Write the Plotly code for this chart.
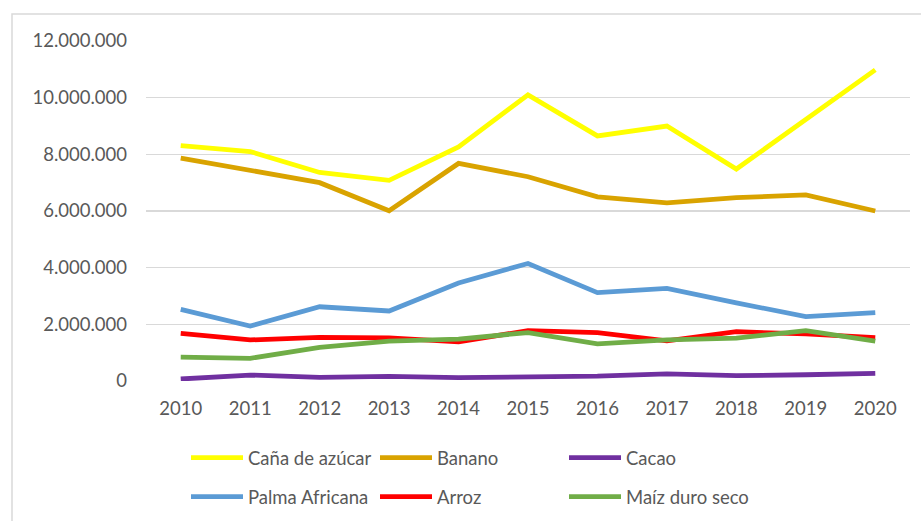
import plotly.graph_objects as go

years = ["2010", "2011", "2012", "2013", "2014", "2015", "2016", "2017", "2018", "2019", "2020"]
cana = [8310000, 8100000, 7360000, 7080000, 8260000, 10100000, 8650000, 9000000, 7480000, 9250000, 10980000]
banano = [7870000, 7420000, 7000000, 6010000, 7680000, 7210000, 6500000, 6290000, 6470000, 6570000, 6000000]
cacao = [70000, 210000, 130000, 160000, 120000, 150000, 170000, 250000, 190000, 220000, 270000]
palma = [2530000, 1940000, 2620000, 2470000, 3460000, 4150000, 3120000, 3270000, 2760000, 2270000, 2410000]
arroz = [1680000, 1450000, 1540000, 1520000, 1380000, 1780000, 1710000, 1420000, 1740000, 1660000, 1530000]
maiz = [840000, 800000, 1190000, 1410000, 1480000, 1710000, 1310000, 1450000, 1510000, 1780000, 1410000]
y_ticks = [0, 2000000, 4000000, 6000000, 8000000, 10000000, 12000000]
y_tick_labels = ["0", "2.000.000", "4.000.000", "6.000.000", "8.000.000", "10.000.000", "12.000.000"]

series_names = ["Caña de azúcar", "Banano", "Cacao", "Palma Africana", "Arroz", "Maíz duro seco"]
series_values = [cana, banano, cacao, palma, arroz, maiz]
series_colors = ["#FFFF00", "#D9A300", "#7030A0", "#5B9BD5", "#FF0000", "#70AD47"]

FONT = "Lato"
GRAY = "#595959"

# plot area in pixels: x 146..910, y 41..381
PL, PR, PT, PB = 146, 910, 41, 381
def px_x(p):
    return (p - PL) / (PR - PL)
def px_y(p):
    return (PB - p) / (PB - PT)

legend_cols = [186, 375, 564]
legend_rows = [458, 497]

fig = go.Figure()
layout_legends = {}
for i, (name, vals, color) in enumerate(zip(series_names, series_values, series_colors)):
    key = "legend" if i == 0 else f"legend{i + 1}"
    fig.add_trace(go.Scatter(
        x=years, y=vals, name=name, mode="lines",
        line=dict(color=color, width=4.8),
        legend=key,
    ))
    layout_legends[key] = dict(
        orientation="h", xanchor="left", yanchor="middle",
        x=px_x(legend_cols[i % 3]), y=px_y(legend_rows[i // 3]),
        font=dict(family=FONT, size=18.5, color=GRAY),
        itemwidth=52, bgcolor="rgba(0,0,0,0)",
        itemclick=False, itemdoubleclick=False,
    )

fig.update_layout(
    width=921, height=521,
    margin=dict(l=PL, r=921 - PR, t=PT, b=521 - PB, autoexpand=False),
    paper_bgcolor="white", plot_bgcolor="white",
    font=dict(family=FONT, size=18, color=GRAY),
    showlegend=True,
    hovermode=False,
    xaxis=dict(
        type="category", range=[-0.5, 10.5],
        showgrid=False, zeroline=False, showline=False,
        ticks="", ticklabelstandoff=14,
        tickfont=dict(family=FONT, size=18.5, color=GRAY),
    ),
    yaxis=dict(
        range=[0, 12000000],
        tickvals=y_ticks, ticktext=y_tick_labels,
        showgrid=True, gridcolor="#D9D9D9", gridwidth=1.3,
        zeroline=False, showline=False, ticks="",
        ticklabelstandoff=18,
        tickfont=dict(family=FONT, size=18.5, color=GRAY),
    ),
    shapes=[dict(
        type="rect", xref="paper", yref="paper",
        x0=px_x(12), x1=px_x(960), y0=px_y(560), y1=px_y(14),
        line=dict(color="#D9D9D9", width=1.5), fillcolor="rgba(0,0,0,0)",
        layer="below",
    )],
    **layout_legends,
)

fig.write_html(
    "out.html",
    config={"displayModeBar": False, "staticPlot": True},
    post_script="document.body.style.margin='0';document.body.style.overflow='hidden';",
)
